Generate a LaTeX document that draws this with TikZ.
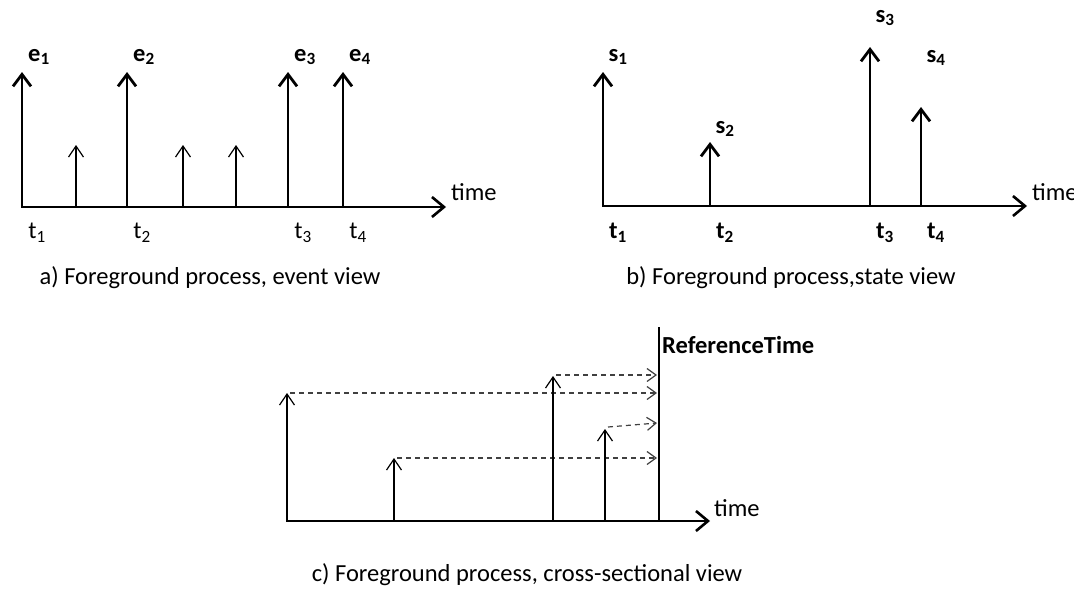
\documentclass[tikz,border=0pt]{standalone}
\usepackage{fontspec}
\setmainfont{Carlito}
\usetikzlibrary{arrows.meta, positioning}
\tikzset{
	axis/.style={line width=2.6pt, -{Straight Barb[length=12pt,width=20pt]}},
	big/.style={line width=2.8pt, -{Straight Barb[length=12pt,width=18pt]}},
	minor/.style={line width=1.2pt, -{Straight Barb[length=11pt,width=15pt]}},
	proj/.style={line width=1.2pt, black!75, dash pattern=on 5pt off 4pt, -{Straight Barb[length=9pt,width=13pt]}},
	lbl/.style={inner sep=0pt, font=\fontsize{24.5}{28}\selectfont},
	captxt/.style={inner sep=0pt, font=\fontsize{24.5}{28}\selectfont}
}

\begin{document}
\begin{tikzpicture}[x=1pt,y=-1pt,line join=round]
	\useasboundingbox (0,0) rectangle (1074,589);
	% a) event view
	\begin{scope}
		\coordinate (oa) at (21,207);
		\coordinate (ea) at (446,207);
		\draw[axis] (oa) -- (ea);
		\node[lbl,anchor=west] (timea) at (451,192) {time};
		\foreach\x/\i in {22/1,127/2,288/3,343/4}
		{
			\coordinate (ba\i) at (\x,207);
			\coordinate (ha\i) at (\x,72);
			\draw[big] (ba\i) -- (ha\i);
			\node[lbl] (ea\i) at (\x+17,57) {\textbf{e\textsubscript{\i}}};
			\node[lbl] (ta\i) at (\x+15,233) {t\textsubscript{\i}};
		}
		\foreach\x [count=\k] in {76,183,236}
		{
			\coordinate (ma\k) at (\x,207);
			\coordinate (na\k) at (\x,145);
			\draw[minor] (ma\k) -- (na\k);
		}
		\node[captxt] (capa) at (210,278) {a) Foreground process, event view};
	\end{scope}
	% b) state view
	\begin{scope}
		\coordinate (ob) at (602,206);
		\coordinate (eb) at (1027,206);
		\draw[axis] (ob) -- (eb);
		\node[lbl,anchor=west] (timeb) at (1032,192) {time};
		\foreach\x/\h/\ly/\i in {603/72/57/1,710/142/129/2,870/47/18/3,921/107/58/4}
		{
			\coordinate (bb\i) at (\x,206);
			\coordinate (hb\i) at (\x,\h);
			\draw[big] (bb\i) -- (hb\i);
			\node[lbl] (sb\i) at (\x+15,\ly) {\textbf{s\textsubscript{\i}}};
			\node[lbl] (tb\i) at (\x+15,233) {\textbf{t\textsubscript{\i}}};
		}
		\node[captxt] (capb) at (791,278) {b) Foreground process,state view};
	\end{scope}
	% c) cross-sectional view
	\begin{scope}
		\coordinate (oc) at (286,521);
		\coordinate (ec) at (710,521);
		\coordinate (rb) at (659,521);
		\coordinate (rt) at (659,327);
		\draw[axis] (oc) -- (ec);
		\draw[line width=2.4pt] (rb) -- (rt);
		\node[lbl,anchor=west] (ref) at (662,345) {\textbf{ReferenceTime}};
		\node[lbl,anchor=west] (timec) at (714,508) {time};
		\foreach\x/\h/\y/\e/\i in {287/393/393/393/1,394/458/458/458/2,553/376/375/375/3,605/429/427/423/4}
		{
			\coordinate (bc\i) at (\x,521);
			\coordinate (hc\i) at (\x,\h);
			\coordinate (dc\i) at (\x+3,\y);
			\coordinate (rc\i) at (657,\e);
			\draw[minor] (bc\i) -- (hc\i);
			\draw[proj] (dc\i) -- (rc\i);
		}
		\node[captxt] (capc) at (527,575) {c) Foreground process, cross-sectional view};
	\end{scope}
\end{tikzpicture}
\end{document}
